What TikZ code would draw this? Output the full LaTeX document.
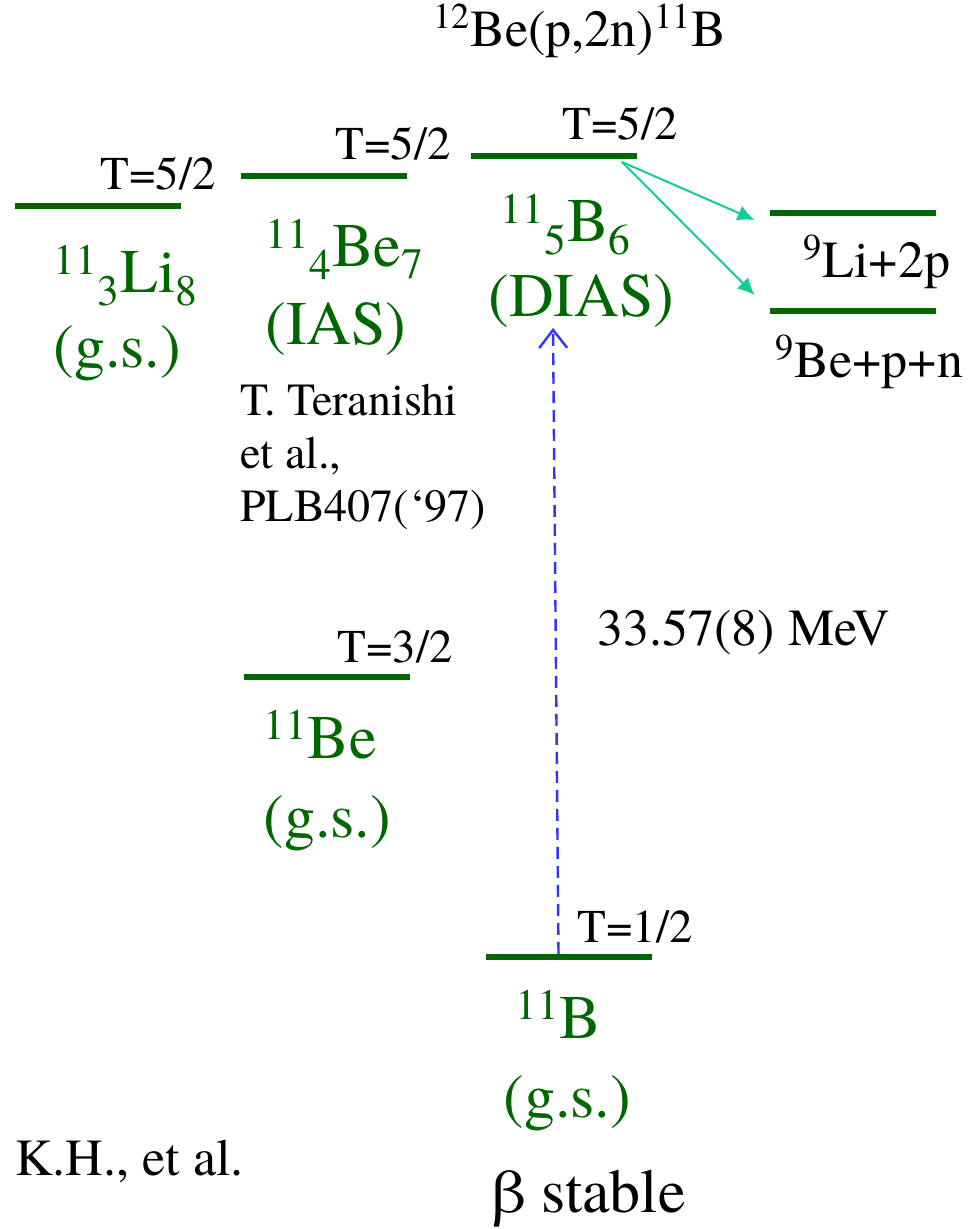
\documentclass[tikz,border=0pt]{standalone}
\usepackage{fontspec}
\setmainfont{texgyretermes}[Extension=.otf,UprightFont=*-regular,BoldFont=*-bold,ItalicFont=*-italic]
\usetikzlibrary{arrows.meta,calc}
\definecolor{lvgreen}{HTML}{006600}
\definecolor{tealgr}{HTML}{11CC99}
\definecolor{exblue}{HTML}{3333FF}
\tikzset{level/.style={fill=lvgreen,inner sep=0pt,minimum width=83pt,minimum height=2.8pt},tlab/.style={anchor=base west,inner sep=0pt,font=\fontsize{23.5}{28}\selectfont},nuc/.style={anchor=base west,inner sep=0pt,text=lvgreen,font=\fontsize{31}{37}\selectfont},txt/.style={anchor=base west,inner sep=0pt,font=\fontsize{26}{31}\selectfont},ref/.style={anchor=north west,inner sep=0pt,align=left,font=\fontsize{23}{26.5}\selectfont},decay/.style={-{Latex[length=8.5pt,width=8pt]},draw=tealgr,line width=1pt},excite/.style={-{Straight Barb[length=9pt,width=14pt]},draw=exblue,line width=1.2pt,dash pattern=on 6pt off 3.5pt}}

\begin{document}
\begin{tikzpicture}[x=0.5pt,y=-0.5pt]
\useasboundingbox (0,0) rectangle (968,1229);
% levels
\node[level] (lvLi) at (98,206) {};
\node[level] (lvBe) at (323.5,176) {};
\node[level] (lvDias) at (553.5,156) {};
\node[level] (lvLip) at (853,213) {};
\node[level] (lvBepn) at (853,311) {};
\node[level] (lvBeGs) at (326.5,677) {};
\node[level] (lvB) at (568.5,957) {};
% isospin
\node[tlab] (tLi) at (100,190) {T=5/2};
\node[tlab] (tBe) at (335,160) {T=5/2};
\node[tlab] (tDias) at (562,140) {T=5/2};
\node[tlab] (tBeGs) at (337,662) {T=3/2};
\node[tlab] (tB) at (577,942) {T=1/2};
% nuclei
\node[nuc] (nLi) at (53,293) {\textsuperscript{11}\textsubscript{3}Li\textsubscript{8}};
\node[nuc] (gsLi) at (53,368) {(g.s.)};
\node[nuc] (nBe) at (265,267) {\textsuperscript{11}\textsubscript{4}Be\textsubscript{7}};
\node[nuc] (ias) at (265,345) {(IAS)};
\node[nuc] (nB) at (500,242) {\textsuperscript{11}\textsubscript{5}B\textsubscript{6}};
\node[nuc] (dias) at (488,317) {(DIAS)};
\node[nuc] (nBeGs) at (263,758) {\textsuperscript{11}Be};
\node[nuc] (gsBe) at (263,837) {(g.s.)};
\node[nuc] (nBgs) at (515,1038) {\textsuperscript{11}B};
\node[nuc] (gsB) at (503,1117) {(g.s.)};
\node[nuc,text=black] (stable) at (493,1212) {β stable};
% other texts
\node[txt] (title) at (433,47) {\textsuperscript{12}Be(p,2n)\textsuperscript{11}B};
\node[txt] (ch1) at (803,278) {\textsuperscript{9}Li+2p};
\node[txt] (ch2) at (775,378) {\textsuperscript{9}Be+p+n};
\node[txt] (gap) at (597,645) {33.57(8) MeV};
\node[txt] (kh) at (15,1175) {K.H., et al.};
\node[ref] (ter) at (240,384) {T. Teranishi\\et al.,\\PLB407(‘97)};
% decays and excitation
\coordinate (dOut) at (622,162);
\coordinate (diasIn) at (553,328);
\draw[decay] (dOut) -- ($(lvLip.west)+(-15,7)$);
\draw[decay] (dOut) -- ($(lvBepn.west)+(-15,-16)$);
\draw[excite] ($(lvB.north)+(-10,0)$) -- (diasIn);
\end{tikzpicture}
\end{document}
